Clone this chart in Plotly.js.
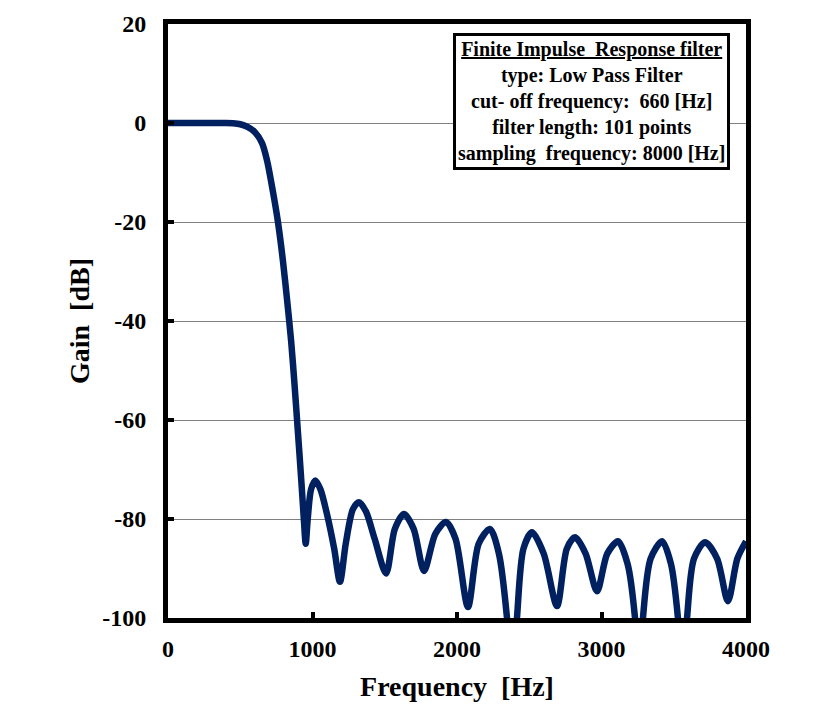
<!DOCTYPE html>
<html>
<head>
<meta charset="utf-8">
<script src="https://cdn.plot.ly/plotly-3.0.1.min.js"></script>
<style>html,body{margin:0;padding:0;background:#fff;}#chart{width:840px;height:715px;}</style>
</head>
<body>
<div id="chart"></div>
<script>
const freqHz = [0,100,200,300,400,450,500,550,600,650,685,727,761,796,825,852,876,898,922,940,953,967,990,1020,1055,1100,1150,1190,1230,1280,1322,1370,1430,1509,1570,1633,1700,1772,1850,1924,1990,2076,2150,2228,2290,2346,2380,2415,2460,2519,2600,2692,2760,2817,2890,2969,3040,3114,3180,3232,3260,3287,3340,3419,3480,3529,3560,3592,3640,3716,3800,3875,3940,4000];
const gainDb = [0,0,0,0,0,-0.05,-0.25,-0.8,-1.8,-4,-7.5,-14,-20,-28,-36,-44,-53,-62,-72,-80,-85,-80,-74,-72.2,-74,-79,-86,-92.7,-85,-78,-76.6,-78.5,-84,-91,-82,-79,-82,-90.5,-83,-80.6,-84,-97.8,-85,-82,-87,-100,-115,-100,-86,-82.7,-87,-97.6,-86,-83.7,-87,-94.6,-87,-84.5,-89,-100,-115,-100,-88,-84.5,-89,-100,-115,-100,-88,-84.7,-88,-96.6,-88,-84.5];
const xTickVals = [0,1000,2000,3000,4000];
const xTickText = ["0","1000","2000","3000","4000"];
const yTickVals = [20,0,-20,-40,-60,-80,-100];
const yTickText = ["20","0","-20","-40","-60","-80","-100"];
const infoLines = ["Finite Impulse  Response filter","type: Low Pass Filter","cut- off frequency:  660 [Hz]","filter length: 101 points","sampling  frequency: 8000 [Hz]"];

const fam = "Liberation Serif, Times New Roman, serif";
const infoText = infoLines.map((s,i)=> i===0 ? '<span style="text-decoration:underline">'+s+'</span>' : s).join('<br>');

const data = [{
  x: freqHz, y: gainDb, type: 'scatter', mode: 'lines',
  line: {color: '#002060', width: 6.5, shape: 'spline', smoothing: 0.8},
  hoverinfo: 'skip'
}];

const layout = {
  width: 840, height: 715,
  margin: {l: 168, r: 94, t: 24, b: 97},
  paper_bgcolor: '#fff', plot_bgcolor: '#fff',
  showlegend: false,
  font: {family: fam, color: '#000'},
  xaxis: {
    range: [0, 4000], tickvals: xTickVals, ticktext: xTickText,
    showgrid: false, zeroline: false,
    showline: true, linecolor: '#000', linewidth: 5, mirror: true,
    ticks: 'inside', ticklen: 6, tickwidth: 4, tickcolor: '#000',
    ticklabelstandoff: 5,
    tickfont: {family: fam, size: 24, color: '#000', weight: 'bold'},
    title: {text: '<b>Frequency  [Hz]</b>', font: {family: fam, size: 28, color: '#000'}, standoff: 17}
  },
  yaxis: {
    range: [-100, 20], tickvals: yTickVals, ticktext: yTickText,
    showgrid: true, gridcolor: '#808080', gridwidth: 1, zeroline: false,
    showline: true, linecolor: '#000', linewidth: 5, mirror: true,
    ticks: 'inside', ticklen: 6, tickwidth: 4, tickcolor: '#000',
    ticklabelstandoff: 12,
    tickfont: {family: fam, size: 24, color: '#000', weight: 'bold'},
    title: {text: '<b>Gain  [dB]</b>', font: {family: fam, size: 28, color: '#000'}, standoff: 6}
  },
  annotations: [{
    xref: 'paper', yref: 'paper', x: 0.732, y: 0.87, xanchor: 'center', yanchor: 'middle',
    text: infoText, showarrow: false, align: 'center',
    font: {family: fam, size: 20, color: '#000', weight: 'bold'},
    bordercolor: '#000', borderwidth: 3, borderpad: 2, bgcolor: '#fff'
  }]
};

Plotly.newPlot('chart', data, layout, {displayModeBar: false, staticPlot: true});
</script>
</body>
</html>
